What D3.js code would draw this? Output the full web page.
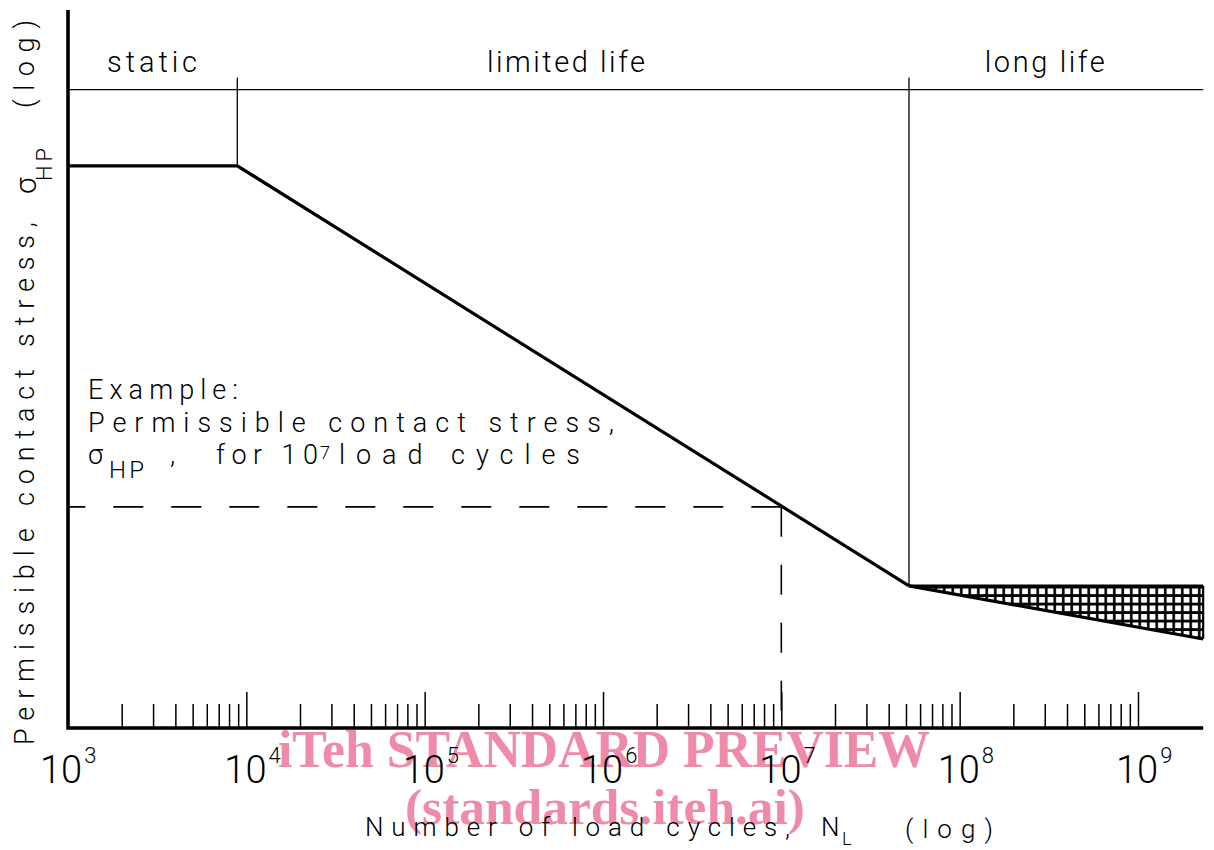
<!DOCTYPE html>
<html>
<head>
<meta charset="utf-8">
<script src="https://cdn.jsdelivr.net/npm/d3@7/dist/d3.min.js"></script>
<style>
  html, body { margin: 0; padding: 0; background: #fff; }
  svg { display: block; }
  .t { font-family: Roboto, "Open Sans", "Liberation Sans", sans-serif; font-weight: 300; fill: #000; }
</style>
</head>
<body>
<svg id="chart" width="1214" height="850"></svg>
<script>
// ---------- data ----------
// S-N curve: static plateau, limited life slope (log N, relative log stress 0..100)
const curveN = [1e3, 8.9e3, 5.2e7];
const curveS = [78.3, 78.3, 19.8];
// long-life scatter band (hatched)
const bandN = [5.2e7, 2.32e9];
const bandUpper = [19.8, 19.8];
const bandLower = [19.8, 12.4];
// region boundaries and labels
const regionBoundN = [8.9e3, 5.2e7];
const regionTopS = 90.6;
const regionLineS = 88.9;
const regionLabels = ["static", "limited life", "long life"];
const regionLabelN = [2.96e3, 6.2e5, 3.0e8];
const regionLabelLen = [90, 158, 120];
// example
const exampleN = 1e7;
const exampleS = 30.8;
// axis
const xDomain = [1e3, 2.32e9];
const yDomain = [0, 100];
const decadeExponents = [3, 4, 5, 6, 7, 8, 9];
const minorMultipliers = [2, 3, 4, 5, 6, 7, 8, 9];

// ---------- scales ----------
const svg = d3.select("#chart");
const x = d3.scaleLog().domain(xDomain).range([68, 68 + 178.33 * Math.log10(xDomain[1] / xDomain[0])]);
const y = d3.scaleLinear().domain(yDomain).range([728, 10]);

// ---------- watermark (beneath) ----------
const wm = svg.append("g").attr("fill", "#ef8aa9")
  .style("font-family", "'Liberation Serif', 'DejaVu Serif', serif").style("font-weight", "bold");
wm.append("text").attr("x", 278).attr("y", 767).attr("font-size", 52)
  .attr("textLength", 652).attr("lengthAdjust", "spacingAndGlyphs").text("iTeh STANDARD PREVIEW");
wm.append("text").attr("x", 405).attr("y", 824).attr("font-size", 50)
  .attr("textLength", 400).attr("lengthAdjust", "spacingAndGlyphs").text("(standards.iteh.ai)");

// ---------- hatch pattern ----------
const cell = 8.5;
const defs = svg.append("defs");
const pat = defs.append("pattern").attr("id", "grid").attr("patternUnits", "userSpaceOnUse")
  .attr("width", cell).attr("height", cell).attr("x", x(bandN[0]) - 3).attr("y", y(bandUpper[0]) - 3);
pat.append("rect").attr("width", cell).attr("height", cell).attr("fill", "#fff");
pat.append("path").attr("d", `M0,${cell / 2}H${cell}M${cell / 2},0V${cell}`)
  .attr("stroke", "#000").attr("stroke-width", 2.6);

// ---------- axis ticks ----------
const minorVals = [];
decadeExponents.forEach(e => minorMultipliers.forEach(m => {
  const v = m * Math.pow(10, e);
  if (v < 1e9) minorVals.push(v);
}));
const majorVals = decadeExponents.slice(1).map(e => Math.pow(10, e));

const gx = svg.append("g").attr("transform", `translate(0,${y(0)})`);
const minorAxis = d3.axisBottom(x).tickValues(minorVals).tickSize(-24).tickFormat("");
const majorAxis = d3.axisBottom(x).tickValues(majorVals).tickSize(-36).tickFormat("");
gx.append("g").call(minorAxis).call(g => g.select(".domain").remove())
  .selectAll("line").attr("stroke", "#000").attr("stroke-width", 1.5);
gx.append("g").call(majorAxis).call(g => g.select(".domain").remove())
  .selectAll("line").attr("stroke", "#000").attr("stroke-width", 1.5);

// tick labels 10^n
decadeExponents.forEach(e => {
  const cx = x(Math.pow(10, e)) - (e === 3 ? 6 : 0);
  const t = svg.append("text").attr("class", "t").attr("font-size", 38)
    .attr("x", cx - 22).attr("y", 783);
  t.append("tspan").text("10");
  t.append("tspan").attr("font-size", 22).attr("dx", 2).attr("dy", -20).text(String(e));
});

// ---------- region separators ----------
const thin = svg.append("g").attr("stroke", "#000").attr("stroke-width", 1.3).attr("fill", "none");
thin.append("line").attr("x1", x(xDomain[0])).attr("x2", x(xDomain[1]))
  .attr("y1", y(regionLineS)).attr("y2", y(regionLineS));
thin.append("line").attr("x1", x(regionBoundN[0])).attr("x2", x(regionBoundN[0]))
  .attr("y1", y(regionTopS)).attr("y2", y(curveS[1]));
thin.append("line").attr("x1", x(regionBoundN[1])).attr("x2", x(regionBoundN[1]))
  .attr("y1", y(regionTopS)).attr("y2", y(curveS[2]));

regionLabels.forEach((lab, i) => {
  svg.append("text").attr("class", "t").attr("font-size", 29).attr("text-anchor", "middle")
    .attr("x", x(regionLabelN[i])).attr("y", 72)
    .attr("textLength", regionLabelLen[i]).attr("lengthAdjust", "spacing").text(lab);
});

// ---------- hatched band ----------
const bandPoly = [
  [x(bandN[0]), y(bandUpper[0])], [x(bandN[1]), y(bandUpper[1])],
  [x(bandN[1]), y(bandLower[1])], [x(bandN[0]), y(bandLower[0])]
];
svg.append("path").attr("d", d3.line()(bandPoly) + "Z").attr("fill", "url(#grid)");
svg.append("line").attr("x1", x(bandN[1])).attr("x2", x(bandN[1]))
  .attr("y1", y(bandUpper[1])).attr("y2", y(bandLower[1])).attr("stroke", "#000").attr("stroke-width", 2.2);
svg.append("path").attr("d", d3.line().x((d, i) => x(bandN[i])).y(d => y(d))(bandUpper))
  .attr("fill", "none").attr("stroke", "#000").attr("stroke-width", 2.6);
svg.append("path").attr("d", d3.line().x((d, i) => x(bandN[i])).y(d => y(d))(bandLower))
  .attr("fill", "none").attr("stroke", "#000").attr("stroke-width", 3.2);

// ---------- main curve ----------
svg.append("path").attr("d", d3.line().x((d, i) => x(curveN[i])).y(d => y(d))(curveS))
  .attr("fill", "none").attr("stroke", "#000").attr("stroke-width", 3.2).attr("stroke-linejoin", "round");

// ---------- example dashed lines ----------
const dash = svg.append("g").attr("stroke", "#000").attr("stroke-width", 1.6).attr("fill", "none")
  .attr("stroke-dasharray", "30,28");
dash.append("line").attr("x1", x(exampleN)).attr("x2", x(xDomain[0]))
  .attr("y1", y(exampleS)).attr("y2", y(exampleS));
dash.append("line").attr("x1", x(exampleN)).attr("x2", x(exampleN))
  .attr("y1", y(exampleS)).attr("y2", y(0));

// ---------- axes lines ----------
svg.append("path")
  .attr("d", `M${x(xDomain[0])},${y(yDomain[1])}V${y(0)}H${x(xDomain[1])}`)
  .attr("fill", "none").attr("stroke", "#000").attr("stroke-width", 3.6).attr("stroke-linejoin", "miter");

// ---------- example text ----------
const ex = svg.append("g");
ex.append("text").attr("class", "t").attr("font-size", 27).attr("x", 88).attr("y", 399)
  .attr("textLength", 150).attr("lengthAdjust", "spacing").text("Example:");
ex.append("text").attr("class", "t").attr("font-size", 27).attr("x", 88).attr("y", 432)
  .attr("textLength", 526).attr("lengthAdjust", "spacing").text("Permissible contact stress,");
ex.append("text").attr("class", "t").attr("font-size", 27).attr("x", 88).attr("y", 464).text("σ");
ex.append("text").attr("class", "t").attr("font-size", 24).attr("x", 109).attr("y", 478)
  .attr("textLength", 35).attr("lengthAdjust", "spacing").text("HP");
ex.append("text").attr("class", "t").attr("font-size", 27).attr("x", 170).attr("y", 464).text(",");
ex.append("text").attr("class", "t").attr("font-size", 27).attr("x", 216).attr("y", 464)
  .attr("textLength", 102).attr("lengthAdjust", "spacing").text("for 10");
ex.append("text").attr("class", "t").attr("font-size", 18).attr("x", 320).attr("y", 459).text("7");
ex.append("text").attr("class", "t").attr("font-size", 27).attr("x", 339).attr("y", 464)
  .attr("textLength", 241).attr("lengthAdjust", "spacing").text("load cycles");

// ---------- x axis title ----------
svg.append("text").attr("class", "t").attr("font-size", 26).attr("x", 365).attr("y", 836)
  .attr("textLength", 425).attr("lengthAdjust", "spacing").text("Number of load cycles,");
svg.append("text").attr("class", "t").attr("font-size", 26).attr("x", 821).attr("y", 836).text("N");
svg.append("text").attr("class", "t").attr("font-size", 18).attr("x", 842).attr("y", 845).text("L");
svg.append("text").attr("class", "t").attr("font-size", 26).attr("x", 905).attr("y", 838)
  .attr("textLength", 88).attr("lengthAdjust", "spacing").text("(log)");

// ---------- y axis title (rotated) ----------
const yt = svg.append("g").attr("transform", "rotate(-90)");
yt.append("text").attr("class", "t").attr("font-size", 27).attr("x", -745).attr("y", 34)
  .attr("textLength", 523).attr("lengthAdjust", "spacing").text("Permissible contact stress,");
yt.append("text").attr("class", "t").attr("font-size", 30).attr("x", -194).attr("y", 36).text("σ");
yt.append("text").attr("class", "t").attr("font-size", 22).attr("x", -181).attr("y", 52)
  .attr("textLength", 33).attr("lengthAdjust", "spacing").text("HP");
yt.append("text").attr("class", "t").attr("font-size", 27).attr("x", -108).attr("y", 34)
  .attr("textLength", 88).attr("lengthAdjust", "spacing").text("(log)");
</script>
</body>
</html>
